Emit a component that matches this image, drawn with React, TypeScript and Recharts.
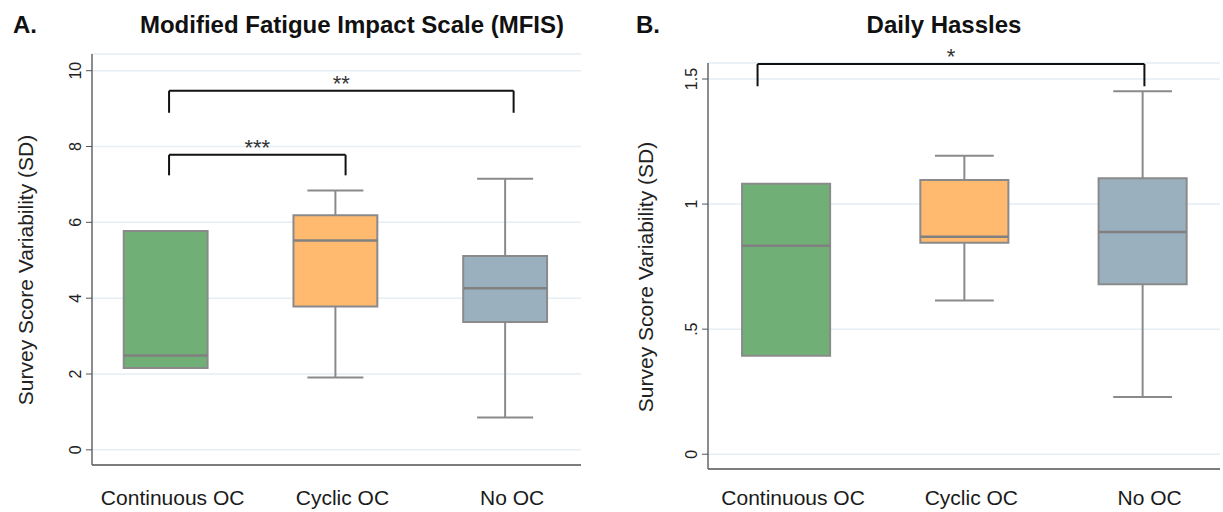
import {
  ComposedChart,
  XAxis,
  YAxis,
  CartesianGrid,
  ReferenceArea,
  ReferenceLine,
  Scatter,
} from 'recharts';

const categories = ['Continuous OC', 'Cyclic OC', 'No OC'];
const boxColors = ['#70b077', '#ffba70', '#9bb0bf'];

// Panel A: MFIS (survey score SD)
const mfisMin = [2.16, 1.91, 0.85];
const mfisQ1 = [2.16, 3.78, 3.37];
const mfisMedian = [2.49, 5.52, 4.26];
const mfisQ3 = [5.77, 6.19, 5.11];
const mfisMax = [5.77, 6.84, 7.15];
const mfisTicks = [0, 2, 4, 6, 8, 10];
const mfisBrackets = [
  { from: 1.02, to: 3.05, base: 8.89, top: 9.47, label: '**' },
  { from: 1.02, to: 2.06, base: 7.24, top: 7.78, label: '***' },
];

// Panel B: Daily Hassles
const hasslesMin = [0.394, 0.615, 0.229];
const hasslesQ1 = [0.394, 0.845, 0.68];
const hasslesMedian = [0.833, 0.869, 0.888];
const hasslesQ3 = [1.081, 1.096, 1.103];
const hasslesMax = [1.081, 1.193, 1.451];
const hasslesTicks = [0, 0.5, 1, 1.5];
const hasslesBrackets = [{ from: 0.84, to: 3.01, base: 1.471, top: 1.56, label: '*' }];

const BOX_HALF = 0.247;
const CAP_HALF = 0.165;
const EDGE = '#8a8a8a';
const FONT = '"Liberation Sans", Arial, sans-serif';

type Stats = { min: number[]; q1: number[]; med: number[]; q3: number[]; max: number[] };
type Bracket = { from: number; to: number; base: number; top: number; label: string };

// y tick labels are drawn vertically, like the Stata export
function VTick(props: any) {
  const { x, y, payload, fmt } = props;
  return (
    <text
      x={x}
      y={y}
      transform={`rotate(-90 ${x} ${y})`}
      textAnchor="middle"
      fontSize={16}
      fontFamily={FONT}
      fill="#222"
    >
      {fmt(payload.value)}
    </text>
  );
}

interface PanelProps {
  left: number;
  width: number;
  margin: { top: number; right: number; bottom: number; left: number };
  yWidth: number;
  xHeight: number;
  xDomain: [number, number];
  yDomain: [number, number];
  ticks: number[];
  fmt: (v: number) => string;
  stats: Stats;
  brackets: Bracket[];
  labelGap: number;
}

function BoxPanel(p: PanelProps) {
  const rows = categories.map((name, i) => ({
    x: i + 1,
    name,
    min: p.stats.min[i],
    q1: p.stats.q1[i],
    med: p.stats.med[i],
    q3: p.stats.q3[i],
    max: p.stats.max[i],
  }));

  return (
    <div style={{ position: 'absolute', left: p.left, top: 0 }}>
      <ComposedChart width={p.width} height={512} margin={p.margin} data={rows}>
        <CartesianGrid vertical={false} stroke="#e4eef4" strokeWidth={1.5} />
        <XAxis
          dataKey="x"
          type="number"
          domain={p.xDomain}
          allowDataOverflow
          ticks={[1, 2, 3]}
          tickFormatter={(v: number) => categories[v - 1]}
          height={p.xHeight}
          tickLine={false}
          tickSize={0}
          tickMargin={p.labelGap}
          axisLine={{ stroke: '#555', strokeWidth: 1.5 }}
          tick={{ fontSize: 21, fill: '#1a1a1a', fontFamily: FONT, dx: 7 }}
        />
        <YAxis
          type="number"
          domain={p.yDomain}
          allowDataOverflow
          ticks={p.ticks}
          width={p.yWidth}
          tickSize={6}
          tickMargin={5}
          tickLine={{ stroke: '#555' }}
          axisLine={{ stroke: '#666', strokeWidth: 1.5 }}
          tick={(tp: any) => <VTick {...tp} fmt={p.fmt} />}
        />
        {rows.map((r, i) => (
          <ReferenceArea
            key={`box-${i}`}
            x1={r.x - BOX_HALF}
            x2={r.x + BOX_HALF}
            y1={r.q1}
            y2={r.q3}
            fill={boxColors[i]}
            fillOpacity={1}
            stroke={EDGE}
            strokeWidth={2}
            ifOverflow="visible"
          />
        ))}
        {rows.map((r, i) => (
          <ReferenceLine
            key={`med-${i}`}
            segment={[
              { x: r.x - BOX_HALF, y: r.med },
              { x: r.x + BOX_HALF, y: r.med },
            ]}
            stroke="#808080"
            strokeWidth={2.5}
            ifOverflow="visible"
          />
        ))}
        {rows
          .filter((r) => r.max > r.q3)
          .flatMap((r) => [
            <ReferenceLine
              key={`uw-${r.x}`}
              segment={[
                { x: r.x, y: r.q3 },
                { x: r.x, y: r.max },
              ]}
              stroke={EDGE}
              strokeWidth={2}
              ifOverflow="visible"
            />,
            <ReferenceLine
              key={`uc-${r.x}`}
              segment={[
                { x: r.x - CAP_HALF, y: r.max },
                { x: r.x + CAP_HALF, y: r.max },
              ]}
              stroke={EDGE}
              strokeWidth={2}
              ifOverflow="visible"
            />,
          ])}
        {rows
          .filter((r) => r.min < r.q1)
          .flatMap((r) => [
            <ReferenceLine
              key={`lw-${r.x}`}
              segment={[
                { x: r.x, y: r.q1 },
                { x: r.x, y: r.min },
              ]}
              stroke={EDGE}
              strokeWidth={2}
              ifOverflow="visible"
            />,
            <ReferenceLine
              key={`lc-${r.x}`}
              segment={[
                { x: r.x - CAP_HALF, y: r.min },
                { x: r.x + CAP_HALF, y: r.min },
              ]}
              stroke={EDGE}
              strokeWidth={2}
              ifOverflow="visible"
            />,
          ])}
        {p.brackets.flatMap((b, i) => [
          <ReferenceLine
            key={`bt-${i}`}
            segment={[
              { x: b.from, y: b.top },
              { x: b.to, y: b.top },
            ]}
            stroke="#111"
            strokeWidth={2}
            ifOverflow="visible"
            label={{
              value: b.label,
              position: 'top',
              offset: 0,
              fontSize: 22,
              fill: '#333',
              fontFamily: FONT,
            }}
          />,
          <ReferenceLine
            key={`bl-${i}`}
            segment={[
              { x: b.from, y: b.base },
              { x: b.from, y: b.top },
            ]}
            stroke="#111"
            strokeWidth={2}
            ifOverflow="visible"
          />,
          <ReferenceLine
            key={`br-${i}`}
            segment={[
              { x: b.to, y: b.base },
              { x: b.to, y: b.top },
            ]}
            stroke="#111"
            strokeWidth={2}
            ifOverflow="visible"
          />,
        ])}
        <Scatter dataKey="med" isAnimationActive={false} shape={() => <g />} />
      </ComposedChart>
    </div>
  );
}

export default function App() {
  const titleStyle = { fontFamily: FONT, fontWeight: 700, fontSize: 24, fill: '#111' };
  const yTitleStyle = { fontFamily: FONT, fontSize: 21, fill: '#222' };
  return (
    <div
      style={{
        position: 'absolute',
        left: 0,
        top: 0,
        width: 1223,
        height: 512,
        background: '#fff',
        overflow: 'hidden',
      }}
    >
      <BoxPanel
        left={0}
        width={600}
        margin={{ top: 54, right: 19, bottom: 0, left: 0 }}
        yWidth={92}
        xHeight={47}
        xDomain={[0.566, 3.447]}
        yDomain={[-0.4, 10.44]}
        ticks={mfisTicks}
        fmt={(v) => String(v)}
        stats={{ min: mfisMin, q1: mfisQ1, med: mfisMedian, q3: mfisQ3, max: mfisMax }}
        brackets={mfisBrackets}
        labelGap={25}
      />
      <BoxPanel
        left={610}
        width={613}
        margin={{ top: 63, right: 3, bottom: 0, left: 0 }}
        yWidth={98}
        xHeight={43}
        xDomain={[0.562, 3.434]}
        yDomain={[-0.059, 1.564]}
        ticks={hasslesTicks}
        fmt={(v) => (v === 0.5 ? '.5' : String(v))}
        stats={{ min: hasslesMin, q1: hasslesQ1, med: hasslesMedian, q3: hasslesQ3, max: hasslesMax }}
        brackets={hasslesBrackets}
        labelGap={21}
      />
      <svg
        width={1223}
        height={512}
        style={{ position: 'absolute', left: 0, top: 0, pointerEvents: 'none' }}
      >
        <text x={13} y={33} style={titleStyle}>
          A.
        </text>
        <text x={352} y={33} textAnchor="middle" style={titleStyle}>
          Modified Fatigue Impact Scale (MFIS)
        </text>
        <text x={636} y={33} style={titleStyle}>
          B.
        </text>
        <text x={944} y={33} textAnchor="middle" style={titleStyle}>
          Daily Hassles
        </text>
        <text
          x={33}
          y={270}
          transform="rotate(-90 33 270)"
          textAnchor="middle"
          style={yTitleStyle}
        >
          Survey Score Variability (SD)
        </text>
        <text
          x={653}
          y={277}
          transform="rotate(-90 653 277)"
          textAnchor="middle"
          style={yTitleStyle}
        >
          Survey Score Variability (SD)
        </text>
      </svg>
    </div>
  );
}
